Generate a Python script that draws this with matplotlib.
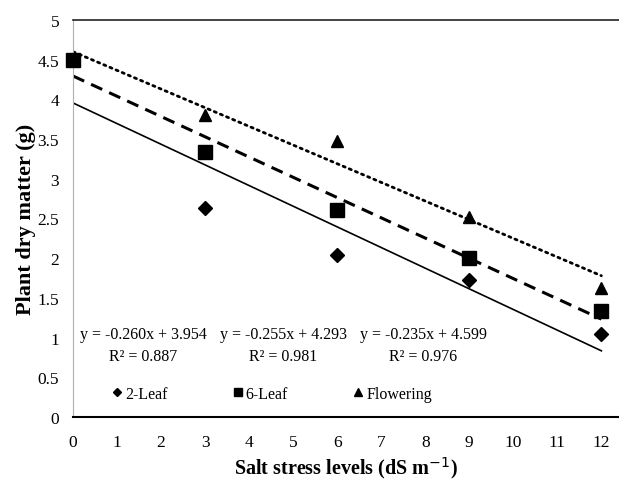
import numpy as np
import matplotlib.pyplot as plt

plt.rcParams['font.family'] = ['Liberation Serif', 'DejaVu Serif']

# Dados
salinidade = [0, 3, 6, 9, 12]
folha2 = [4.50, 2.63, 2.04, 1.72, 1.05]
folha6 = [4.50, 3.34, 2.61, 2.00, 1.33]
floracao = [4.50, 3.80, 3.47, 2.52, 1.62]

series = ["2-Leaf", "6-Leaf", "Flowering"]
inclinacoes = [-0.260, -0.255, -0.235]
interceptos = [3.954, 4.293, 4.599]
r2 = [0.887, 0.981, 0.976]

fig = plt.figure(figsize=(6.19, 4.85), dpi=100)
ax = fig.add_axes([0.118, 0.138, 0.882, 0.819])

# linhas de tendencia
xl = np.array([0, 12])
estilos = [dict(ls="-", lw=1.2), dict(ls=(0, (4, 2.5)), lw=2.2), dict(ls=(0, (0.8, 1.6)), lw=2.0, dash_capstyle="round")]
for m, b, st in zip(inclinacoes, interceptos, estilos):
    ax.plot(xl, m * xl + b, color="black", zorder=2, **st)

ax.plot(salinidade, folha2, "D", color="black", ms=7, ls="none", label="2-Leaf", zorder=3, clip_on=False)
ax.plot(salinidade, floracao, "^", color="black", ms=9, ls="none", label="Flowering", zorder=3, clip_on=False)
ax.plot(salinidade, folha6, "s", color="black", ms=9.5, ls="none", label="6-Leaf", zorder=4, clip_on=False)

# equacoes
pos_x = [1.6, 4.77, 7.95]
for px, m, b, r in zip(pos_x, inclinacoes, interceptos, r2):
    ax.text(px, 1.05, f"y = {m:.3f}x + {b:.3f}", ha="center", va="center", fontsize=11.5)
    ax.text(px, 0.77, f"R² = {r:.3f}", ha="center", va="center", fontsize=11.5)

h, l = ax.get_legend_handles_labels()
ordem = [0, 2, 1]
leg = ax.legend([h[i] for i in ordem], [l[i] for i in ordem], ncol=3, loc="lower left",
                bbox_to_anchor=(0.045, 0.003), frameon=False, fontsize=11.5,
                markerscale=0.6, handlelength=0.6, handletextpad=0.2, columnspacing=4.1)

ax.set_xlim(0, 12.4)
ax.set_ylim(0, 5)
ax.set_xticks(range(0, 13))
ax.set_yticks(np.arange(0, 5.01, 0.5))
ax.set_yticklabels(["0", "0.5", "1", "1.5", "2", "2.5", "3", "3.5", "4", "4.5", "5"])
ax.tick_params(axis="both", length=0, labelsize=12.5)
ax.tick_params(axis="x", pad=12)
ax.tick_params(axis="y", pad=10)

ax.spines["right"].set_visible(False)
ax.spines["left"].set_color("#b0b0b0")
ax.spines["left"].set_linewidth(0.8)
ax.spines["bottom"].set_linewidth(1.5)
ax.spines["top"].set_linewidth(1.2)
ax.spines["top"].set_color("#222222")

ax.set_xlabel("Salt stress levels (dS m$^{-1}$)", fontsize=14.5, fontweight="bold", labelpad=3)
ax.set_ylabel("Plant dry matter (g)", fontsize=16, fontweight="bold", labelpad=1)

fig.savefig("out.png", dpi=100)
